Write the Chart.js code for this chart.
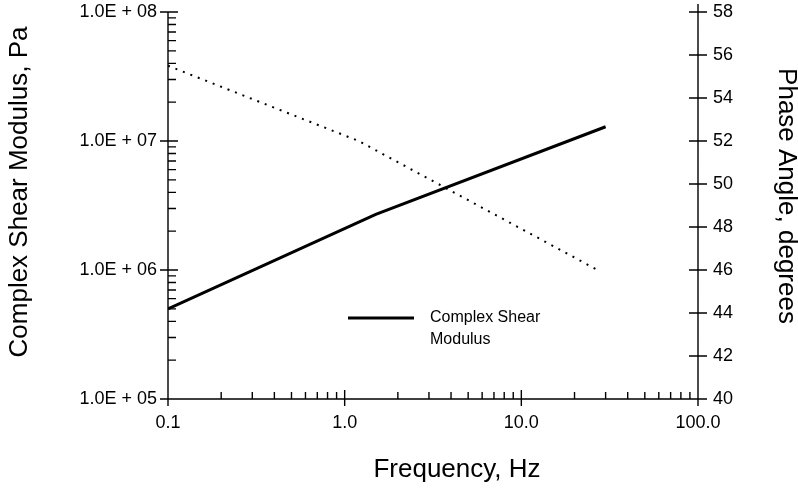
<!DOCTYPE html>
<html>
<head>
<meta charset="utf-8">
<script src="https://cdn.jsdelivr.net/npm/chart.js@4/dist/chart.umd.min.js"></script>
<style>
  html, body { margin: 0; padding: 0; background: #fff; }
  #wrap { width: 798px; height: 493px; }
</style>
</head>
<body>
<div id="wrap"><canvas id="chart" width="798" height="493"></canvas></div>
<script>
// values
const freqTicks = [0.1, 1, 10, 100];
const modulusTicks = [1e5, 1e6, 1e7, 1e8];
const phaseTicks = [40, 42, 44, 46, 48, 50, 52, 54, 56, 58];

const modulusFreq = [0.1, 1.5, 30];
const modulusValues = [5.0e5, 2.7e6, 1.29e7];

const phaseFreq = [0.1, 1.2, 27];
const phaseValues = [55.5, 52.0, 46.0];

const xTitle = 'Frequency, Hz';
const yTitle = 'Complex Shear Modulus, Pa';
const y2Title = 'Phase Angle, degrees';

const FONT = "'Liberation Sans', Arial, sans-serif";

// tick marks: majors cross the axis, minors point inwards (log axes only)
const axisTicks = {
    id: 'axisTicks',
    afterDraw(chart) {
        const ctx = chart.ctx;
        const a = chart.chartArea;
        const x = chart.scales.x, y = chart.scales.y, y2 = chart.scales.y2;
        ctx.save();
        ctx.strokeStyle = '#000';
        ctx.lineWidth = 1.4;
        ctx.beginPath();
        // axis lines
        ctx.moveTo(a.left, a.top); ctx.lineTo(a.left, a.bottom);
        ctx.moveTo(a.left, a.bottom); ctx.lineTo(a.right, a.bottom);
        ctx.moveTo(a.right, a.top - 8); ctx.lineTo(a.right, a.bottom);

        freqTicks.forEach(function(v, i) {
            const px = x.getPixelForValue(v);
            ctx.moveTo(px, a.bottom + 7); ctx.lineTo(px, a.bottom - 9);
            if (i < freqTicks.length - 1) {
                for (let m = 2; m <= 9; m++) {
                    const mx = x.getPixelForValue(v * m);
                    ctx.moveTo(mx, a.bottom); ctx.lineTo(mx, a.bottom - 7);
                }
            }
        });
        modulusTicks.forEach(function(v, i) {
            const py = y.getPixelForValue(v);
            ctx.moveTo(a.left - 8, py); ctx.lineTo(a.left + 10, py);
            if (i < modulusTicks.length - 1) {
                for (let m = 2; m <= 9; m++) {
                    const my = y.getPixelForValue(v * m);
                    ctx.moveTo(a.left, my); ctx.lineTo(a.left + 8, my);
                }
            }
        });
        phaseTicks.forEach(function(v) {
            const py = y2.getPixelForValue(v);
            ctx.moveTo(a.right - 9, py); ctx.lineTo(a.right + 9, py);
        });
        ctx.stroke();
        ctx.restore();
    }
};

// axis titles, placed a little off-centre like the original
const axisTitles = {
    id: 'axisTitles',
    afterDraw(chart) {
        const ctx = chart.ctx;
        const a = chart.chartArea;
        ctx.save();
        ctx.fillStyle = '#000';
        ctx.font = '26px ' + FONT;
        ctx.textAlign = 'center';
        ctx.textBaseline = 'middle';
        ctx.fillText(xTitle, a.left + 289, chart.height - 23);

        ctx.save();
        ctx.translate(20, a.top + 180);
        ctx.rotate(-Math.PI / 2);
        ctx.fillText(yTitle, 0, 0);
        ctx.restore();

        ctx.translate(chart.width - 12, a.top + 184);
        ctx.rotate(Math.PI / 2);
        ctx.fillText(y2Title, 0, 0);
        ctx.restore();
    }
};

// legend for the solid series only, sitting inside the plot
const innerLegend = {
    id: 'innerLegend',
    afterDraw(chart) {
        const ctx = chart.ctx;
        const a = chart.chartArea;
        const ds = chart.data.datasets[0];
        const lx = a.left + 180, ly = a.bottom - 81;
        ctx.save();
        ctx.strokeStyle = ds.borderColor;
        ctx.lineWidth = ds.borderWidth;
        ctx.beginPath();
        ctx.moveTo(lx, ly); ctx.lineTo(lx + 66, ly);
        ctx.stroke();
        ctx.fillStyle = '#000';
        ctx.font = '16px ' + FONT;
        ctx.textBaseline = 'middle';
        ds.label.split('\n').forEach(function(t, i) {
            ctx.fillText(t, lx + 82, ly + i * 22);
        });
        ctx.restore();
    }
};

const tickFont = { family: FONT, size: 18 };
const noPad = s => { s.paddingTop = 0; s.paddingBottom = 0; };

new Chart(document.getElementById('chart'), {
    type: 'line',
    data: {
        datasets: [{
            label: 'Complex Shear\nModulus',
            data: modulusFreq.map((f, i) => ({x: f, y: modulusValues[i]})),
            yAxisID: 'y',
            borderColor: '#000',
            borderWidth: 3,
            pointRadius: 0,
            tension: 0
        }, {
            label: 'Phase Angle',
            data: phaseFreq.map((f, i) => ({x: f, y: phaseValues[i]})),
            yAxisID: 'y2',
            borderColor: '#000',
            borderWidth: 2,
            borderDash: [2, 6],
            pointRadius: 0,
            tension: 0
        }]
    },
    options: {
        responsive: false,
        animation: false,
        devicePixelRatio: 1,
        layout: { padding: { top: 12, left: 0, right: 0, bottom: 0 } },
        plugins: {
            legend: { display: false },
            tooltip: { enabled: false }
        },
        scales: {
            x: {
                type: 'logarithmic',
                min: 0.1,
                max: 100,
                afterBuildTicks: s => { s.ticks = freqTicks.map(v => ({value: v})); },
                afterFit: s => { s.height = 94; s.paddingLeft = 0; s.paddingRight = 0; },
                grid: { display: false, drawTicks: false },
                border: { display: false },
                ticks: {
                    color: '#000',
                    padding: 13,
                    font: tickFont,
                    maxRotation: 0,
                    autoSkip: false,
                    callback: v => Number(v).toFixed(1)
                }
            },
            y: {
                type: 'logarithmic',
                position: 'left',
                min: 1e5,
                max: 1e8,
                afterBuildTicks: s => { s.ticks = modulusTicks.map(v => ({value: v})); },
                afterFit: s => { s.width = 168; noPad(s); },
                grid: { display: false, drawTicks: false },
                border: { display: false },
                ticks: {
                    color: '#000',
                    padding: 11,
                    font: tickFont,
                    autoSkip: false,
                    callback: v => '1.0E + 0' + Math.round(Math.log10(v))
                }
            },
            y2: {
                type: 'linear',
                position: 'right',
                min: 40,
                max: 58,
                afterBuildTicks: s => { s.ticks = phaseTicks.map(v => ({value: v})); },
                afterFit: s => { s.width = 100; noPad(s); },
                grid: { display: false, drawTicks: false },
                border: { display: false },
                ticks: {
                    color: '#000',
                    padding: 15,
                    font: tickFont,
                    autoSkip: false
                }
            }
        }
    },
    plugins: [axisTicks, axisTitles, innerLegend]
});
</script>
</body>
</html>
